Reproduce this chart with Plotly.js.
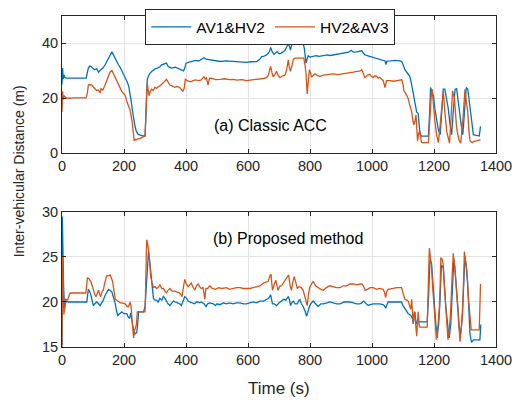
<!DOCTYPE html>
<html>
<head>
<meta charset="utf-8">
<script src="https://cdn.plot.ly/plotly-3.0.1.min.js"></script>
<style>html,body{margin:0;padding:0;background:#fff;}#chart{width:512px;height:400px;}</style>
</head>
<body>
<div id="chart"></div>
<script>
// Series names
const seriesNames = ["AV1&HV2", "HV2&AV3"];

// (a) Classic ACC - AV1&HV2
const accTimeA = [0,2,4,7,10,15,40,78,85,90,95,100,105,112,118,125,132,139,145,150,156,161,166,172,177,182,188,193,198,204,210,215,222,226,231,236,240,246,252,260,268,271,275,279,283,290,300,308,316,321,328,337,343,353,365,372,379,386,392,396,400,410,419,430,441,450,458,465,477,490,510,530,552,575,595,610,628,638,644,652,660,666,670,673,678,684,689,694,699,703,712,719,724,730,734,737,741,746,760,778,782,787,790,794,800,810,820,830,843,855,865,875,890,905,918,925,933,940,950,960,967,972,977,990,1004,1015,1025,1036,1042,1045,1048,1060,1075,1090,1096,1101,1106,1114,1122,1128,1133,1138,1144,1149,1152,1155,1160,1182,1186,1189,1193,1198,1203,1209,1214,1220,1224,1228,1230,1235,1240,1246,1251,1257,1262,1268,1273,1278,1284,1288,1293,1298,1304,1309,1315,1322,1327,1346,1350];
const accDistA = [25,31,27,28.5,27.5,27.3,27.3,27.3,31,31.8,31.4,30.8,30.4,30.8,29.5,30.4,31,32.2,33.5,34.9,36.2,36.9,35.8,34.2,33.2,32.2,31.2,29.8,28.8,27.4,26,24.5,19.8,16,12.7,9.5,7.9,6.8,6.5,6.3,6.2,17,26.9,28,29,29.8,30.7,31,31.5,32.2,32.5,32.8,31.5,31,31.3,31,30.8,30.4,30,31,32.8,33.2,33.4,33.8,33.6,34.2,34.8,34.3,34,33.8,33.4,33.6,33.4,33.2,33.1,33.3,33.4,34.2,35.2,35.4,35.8,36.5,37.2,38.5,37,36,36.5,37,36.4,36.2,36.8,37.4,38.5,39.9,38.8,37.6,39.5,40.1,40,39.9,38,32.8,34,35.5,35,35.2,35.5,35.3,35.6,35.8,35.6,35.8,36,36.2,36.4,36.8,37.5,36.8,36.9,37.1,37.3,36.5,35.8,35.4,34.9,34.6,34.3,34,33.6,32.3,33.5,33.6,33.8,33.6,33.4,32,30.4,29.2,28,25,22,18.5,15,14.4,10,6.7,6.2,6.2,15,23.9,22.5,21,16,12,8.5,6.7,12,20,23.3,23.3,20,16.2,11,6.7,15,23.3,23.5,18.5,13.9,10,6.7,15,23.9,23.3,17,12,6.7,6.2,9.7];

// (a) Classic ACC - HV2&AV3
const accTimeB = [0,2,4,7,10,15,40,78,82,85,90,96,102,107,112,118,123,126,132,139,145,150,155,161,166,172,177,182,188,193,198,204,210,215,220,226,229,233,237,241,246,252,260,268,272,275,278,281,285,289,294,300,305,310,316,321,328,337,342,348,355,363,370,379,385,390,394,398,405,416,424,432,440,448,453,458,462,466,471,476,485,495,510,525,540,552,565,580,595,610,625,638,650,660,666,670,673,677,681,686,692,697,703,712,719,724,730,733,737,742,746,751,765,780,784,787,791,794,798,802,805,810,816,824,832,843,855,865,875,890,897,910,929,940,951,960,967,972,977,985,993,998,1004,1009,1014,1020,1025,1031,1036,1042,1045,1047,1058,1070,1085,1096,1100,1103,1110,1117,1122,1128,1131,1135,1139,1142,1145,1147,1151,1155,1158,1160,1182,1186,1189,1192,1194,1198,1203,1208,1214,1218,1223,1227,1230,1235,1241,1250,1255,1260,1266,1270,1273,1280,1286,1293,1300,1304,1309,1312,1316,1323,1330,1340,1350];
const accDistB = [15,22.5,19.5,21,20.4,20,20.1,20.1,22,24.8,25,24.8,24,23.3,22.8,23,21.9,23.5,23,24.8,26.8,28.7,29.6,30.1,28.8,27.5,26.5,24.8,23.5,22.4,21.8,21,18.5,16.8,15.6,11.5,7,4.4,5,4.8,5.2,5.3,5.8,6.2,18,25.7,23,20.9,22.5,23.3,22.8,24,23.6,24.2,24.5,25.2,25.8,26.9,25.8,24.8,24.5,24,24.3,24,23.2,22.6,23.5,26.9,26.3,26,26.5,26.7,26.4,26.6,27.2,27.8,27,27.4,24.8,27.3,27.2,26.8,26.9,27.1,26.8,26.9,26.6,26.8,26.4,26.6,26.7,26.9,27.2,27.5,28.5,30.4,31.6,29.5,27.8,28.5,29.8,28.4,27.5,28.2,28.4,30,34,31.5,29.8,32,34.2,34.6,34.6,34.6,32,29.2,21.6,25,30.4,29,27.7,28.3,28.9,28.2,28,28.4,28.6,28.8,28.9,28.6,28.7,29,29.2,29.5,29.8,29.9,30.4,28.7,27.5,28.4,28.7,28,27.5,28.2,28.1,27.3,27.6,26.9,26.5,23.9,25,26.4,26.4,26.2,26.5,26.7,25,22.7,21.5,19.8,17.5,15,12.5,10.3,12,13.9,8,4.4,7.5,7.9,5,3.8,3.8,12,19.8,22.5,23.3,17,11.5,7,3.8,8,13.9,19,22.7,15,7.9,3.6,12,22.7,19.8,14,9.1,5,3.6,12,23.3,19,15,9,4.4,3.8,4.3,4.5,4.9];

// (b) Proposed method - AV1&HV2
const propTimeA = [0,1,3,5,8,11,15,20,50,80,85,89,93,97,101,106,112,118,123,128,133,140,145,150,155,161,166,172,176,180,186,193,200,209,214,218,222,226,230,233,237,241,244,247,255,263,268,271,275,279,282,286,290,295,300,305,310,316,322,327,332,337,342,348,353,359,366,374,380,385,390,396,402,407,412,418,423,428,434,439,444,450,458,465,470,477,488,495,500,510,520,531,540,552,563,574,585,595,605,617,628,638,650,660,667,673,676,679,685,692,700,708,715,722,730,734,737,741,746,752,759,763,767,772,778,784,789,794,799,805,810,818,826,835,843,855,864,875,886,897,910,918,929,940,950,961,967,972,980,988,994,1004,1015,1025,1036,1040,1044,1048,1052,1065,1080,1095,1100,1106,1112,1117,1121,1125,1130,1133,1136,1138,1141,1144,1149,1178,1183,1187,1192,1197,1201,1206,1210,1215,1219,1222,1224,1230,1234,1238,1244,1249,1254,1259,1264,1268,1271,1277,1284,1289,1293,1297,1300,1304,1308,1312,1316,1321,1327,1348,1351];
const propDistA = [15.2,29.5,26,22,19.3,19.8,20.1,20,20,20,21.4,21.2,20.8,20.1,19.6,19.8,20,19.8,19.6,19.9,20.2,20.8,21.2,21.4,21.3,21.1,20.5,19.8,19,18.5,18.7,18.9,18.7,18.7,18.3,18.2,18.8,17.6,17,16.4,16.5,16.6,17.5,18.9,18.9,18.9,19.5,21,23.8,25.6,24.8,23.6,22,20.4,20.2,20.2,20,20.4,20.2,20.6,20.4,20,19.8,19.6,19.8,20.1,20,19.9,19.8,19.6,20,20.6,20.4,20.1,20,19.9,19.8,19.8,20,20,19.9,20,19.8,19.5,19.8,19.9,19.8,19.6,19.8,19.7,19.9,19.8,19.9,19.8,19.9,19.9,19.8,19.8,19.9,20,19.9,20.1,20.1,20.3,20.4,20.8,20.1,19.8,19.8,19.6,19.9,20.1,20.3,20.2,20.6,20.2,19.6,19.9,20.1,19.8,19.8,20.1,20.3,19.8,19.5,19,18.4,19,19.6,19.9,20.1,19.8,19.5,19.8,19.8,19.9,20,19.9,19.8,19.8,20,20,20,19.9,19.8,19.8,19.9,20.1,19.9,19.6,19.7,19.8,19.8,19.8,19.7,19.6,19.3,19.8,20,20,20,20,19.6,19.3,18.9,18.7,18.6,18.5,18.2,17.6,18.5,18.9,18,17.6,17.8,17.8,21,24.7,24.3,21.5,19.5,17.5,16,17.5,19.8,22,24.1,23.8,21.5,19.5,17.5,16,17.5,21.8,24.7,23.5,22.3,19.5,16,17.5,19.8,22.5,25.1,24,22.3,19.5,16.5,15.5,15.8,15.8,17.5];

// (b) Proposed method - HV2&AV3
const propTimeB = [0,1.5,3,6,9,12,18,26,50,77,82,86,93,97,101,106,110,114,118,122,125,130,133,138,144,150,155,160,163,168,172,177,183,188,193,199,204,210,215,220,223,226,229,231,234,236,240,243,255,268,270,273,276,279,283,286,290,295,300,305,310,316,322,327,332,337,342,348,355,364,372,379,384,387,391,396,401,407,412,417,422,428,434,439,444,449,455,461,464,470,477,485,495,505,515,524,531,540,552,563,574,585,595,606,617,628,638,650,660,665,670,674,677,679,685,690,697,703,708,715,722,727,731,736,740,745,749,754,759,765,772,778,783,787,791,795,799,805,810,818,826,835,843,853,864,875,886,897,907,918,929,940,950,961,967,972,978,985,994,1004,1015,1025,1036,1040,1044,1048,1052,1068,1080,1095,1100,1106,1112,1117,1121,1125,1128,1131,1133,1136,1138,1141,1144,1147,1149,1152,1154,1178,1182,1185,1189,1192,1196,1200,1204,1208,1213,1217,1220,1222,1226,1230,1234,1238,1242,1245,1249,1253,1258,1262,1267,1271,1275,1280,1284,1288,1292,1295,1298,1302,1306,1311,1315,1320,1327,1346,1350];
const propDistB = [15,25,23,18.6,19.5,20.3,20.2,21,21,21,22.7,22.6,22.3,21.8,21.3,20.8,20.6,21,21.3,20.8,20.6,21.2,21.3,22.1,22.9,22.9,23,22.6,22.3,21.2,20.3,20.2,20,19.9,19.9,19.8,19.8,19.5,19.5,20,19.5,18,16.8,16,16.9,17,17.5,18.9,18.9,18.9,22,26.9,26.5,25.9,24.5,22.9,22.2,21.6,21.7,21.5,21.6,21.9,21.5,21.5,21.2,21,21.3,21.5,21.2,21.2,21.1,21,20.8,20.6,21.5,22.5,22,21.7,21.9,22.1,21.7,21.3,21.8,22,21.7,21.5,21.6,20.3,21.5,21.5,21.8,21.5,21.4,21.6,21.5,21.6,21.6,21.4,21.5,21.6,21.6,21.5,21.5,21.5,21.6,21.7,21.8,22.1,22.2,22.3,22.8,23.1,22,21.3,22,22.4,21.3,21.8,21.8,22.2,22.6,22.8,23,21.8,21.3,22.3,22.8,22.2,21.5,21.7,21.6,21.3,20.7,20.3,19.6,20.8,21.6,22,22.3,21.8,21.6,21.4,21.3,21.6,21.8,21.7,21.6,21.6,21.8,21.8,22,22,21.9,22,22,21.8,21.3,21.4,21.6,21.6,21.4,21.5,21.4,21.1,20.5,21.2,21.4,21.5,21.6,21.6,21,20.3,20.2,20.1,19.6,19.2,20.3,18.8,17.6,18.8,18.9,17.5,16.2,17.8,18.9,17.5,17.2,17.2,22,26,24.8,23.9,21.5,19.3,17.5,15.8,17.5,19.3,22,24.9,24.8,24.1,21.5,19.3,17.2,15.8,17,18.5,22.5,25.4,24,22.3,20,17.5,15.6,17,18.5,22,25.6,24.5,23.5,20.5,18.5,16.9,16.9,16.9,22];

const xTicks = [0,200,400,600,800,1000,1200,1400];
const yTicksTop = [0,20,40];
const yTicksBottom = [15,20,25,30];

const blue = '#0072BD';
const orange = '#D95319';
const FONT = 'Liberation Sans, Arial, Helvetica, sans-serif';
const lineW = 1.3;

const traces = [
  {x: accTimeA, y: accDistA, xaxis: 'x', yaxis: 'y', mode: 'lines', name: seriesNames[0], line: {color: blue, width: lineW}},
  {x: accTimeB, y: accDistB, xaxis: 'x', yaxis: 'y', mode: 'lines', name: seriesNames[1], line: {color: orange, width: lineW}},
  {x: propTimeA, y: propDistA, xaxis: 'x2', yaxis: 'y2', mode: 'lines', name: seriesNames[0], showlegend: false, line: {color: blue, width: lineW}},
  {x: propTimeB, y: propDistB, xaxis: 'x2', yaxis: 'y2', mode: 'lines', name: seriesNames[1], showlegend: false, line: {color: orange, width: lineW}}
];

const axCommon = {
  showline: true, linecolor: '#262626', linewidth: 1, mirror: 'ticks',
  ticks: 'inside', ticklen: 4, tickcolor: '#262626', tickwidth: 1,
  showgrid: true, gridcolor: '#e3e3e3', gridwidth: 1, zeroline: false,
  ticklabeloverflow: 'allow',
  tickfont: {family: FONT, size: 14.5, color: '#262626'}
};

const layout = {
  width: 512, height: 400,
  margin: {l: 62, r: 16, t: 9, b: 53},
  paper_bgcolor: '#ffffff', plot_bgcolor: '#ffffff',
  showlegend: true,
  legend: {
    orientation: 'h', x: 0.48, xanchor: 'center', y: 1.02, yanchor: 'top',
    bgcolor: '#ffffff', bordercolor: '#262626', borderwidth: 1,
    font: {family: FONT, size: 15.5, color: '#000000'},
    itemwidth: 40, tracegroupgap: 0
  },
  xaxis: Object.assign({}, axCommon, {domain: [0, 1], anchor: 'y', range: [0, 1400], tickvals: xTicks, ticktext: xTicks.map(String)}),
  yaxis: Object.assign({}, axCommon, {domain: [0.586, 1], anchor: 'x', range: [0, 50], tickvals: yTicksTop, ticktext: yTicksTop.map(String)}),
  xaxis2: Object.assign({}, axCommon, {domain: [0, 1], anchor: 'y2', range: [0, 1400], tickvals: xTicks, ticktext: xTicks.map(String)}),
  yaxis2: Object.assign({}, axCommon, {domain: [0, 0.408], anchor: 'x2', range: [15, 30], tickvals: yTicksBottom, ticktext: yTicksBottom.map(String)}),
  annotations: [
    {text: '(a) Classic ACC', xref: 'paper', yref: 'paper', x: 0.48, y: 0.668, xanchor: 'center', yanchor: 'middle', showarrow: false, font: {family: FONT, size: 16, color: '#000000'}},
    {text: '(b) Proposed method', xref: 'paper', yref: 'paper', x: 0.52, y: 0.328, xanchor: 'center', yanchor: 'middle', showarrow: false, font: {family: FONT, size: 16, color: '#000000'}},
    {text: 'Inter-vehicular Distance (m)', xref: 'paper', yref: 'paper', x: -0.099, y: 0.531, xanchor: 'center', yanchor: 'middle', textangle: -90, showarrow: false, font: {family: FONT, size: 14, color: '#262626'}},
    {text: 'Time (s)', xref: 'paper', yref: 'paper', x: 0.5, y: -0.124, xanchor: 'center', yanchor: 'middle', showarrow: false, font: {family: FONT, size: 17, color: '#262626'}}
  ]
};

Plotly.newPlot('chart', traces, layout, {staticPlot: true, displayModeBar: false});
</script>
</body>
</html>
